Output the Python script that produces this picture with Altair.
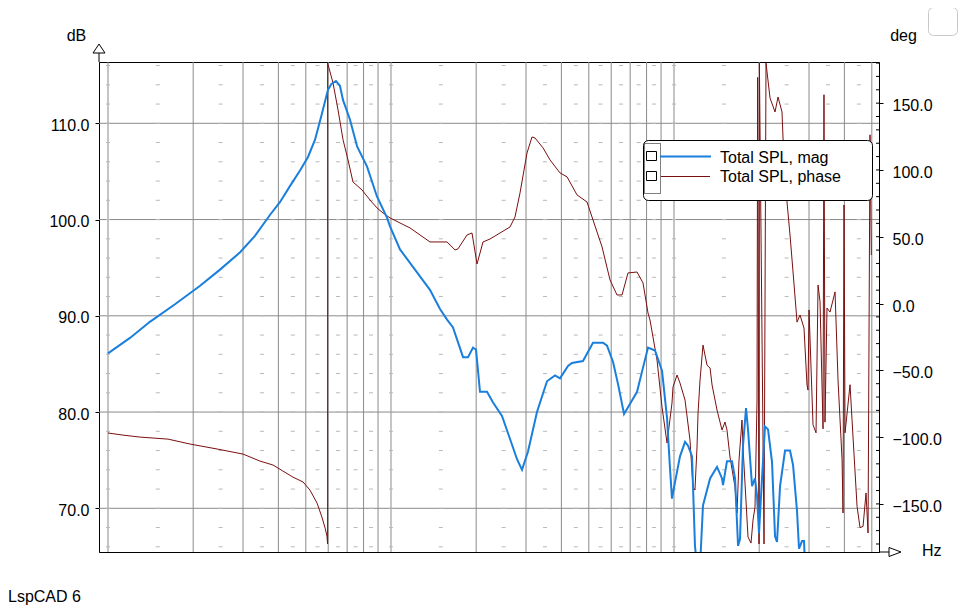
import altair as alt
import pandas as pd

# ---------------- data ----------------
mag_f = [10.0, 11.96, 14.1, 17.25, 21.1, 24.88, 29.3, 33.06, 37.4, 40.5, 44.0, 47.7, 50.9, 53.9, 57.0,
         59.9, 61.6, 63.9, 66.0, 67.7, 71.6, 75.9, 82.3,
         89.2, 96.8, 99.2, 107.6, 116.7, 126.6, 137.3, 149.0, 157.8, 165.6, 179.7, 187.1,
         194.9, 199.7, 206.3, 218.4, 229.4, 246.7, 263.4, 278.8, 290.4, 304.9, 328.0, 355.8,
         379.7, 395.5, 422.2, 436.1, 476.9, 517.3, 561.4, 579.9, 609.0, 634.2, 666.0, 687.9,
         740.3, 770.9, 809.4, 856.9, 907.1, 944.8, 968.1, 983.8, 1008, 1050, 1094, 1121, 1158,
         1186, 1206, 1236, 1266, 1341, 1419, 1478, 1490, 1539, 1603, 1643, 1684, 1711, 1753,
         1797, 1826, 1887, 1933, 1965, 1997, 2046, 2097, 2149, 2220, 2275, 2312, 2370, 2468,
         2570, 2634, 2721, 2765, 2834, 2880, 2904]
mag_db = [86.1, 87.7, 89.4, 91.2, 93.1, 94.8, 96.6, 98.3, 100.5, 101.8, 103.5, 105.1, 106.5, 108.3, 111.0,
          113.5, 114.1, 114.4, 113.9, 112.4, 110.4, 107.6, 105.5,
          102.4, 100.2, 99.3, 96.9, 95.5, 94.1, 92.7, 90.7, 89.6, 88.8, 85.7, 85.7,
          86.7, 86.5, 82.1, 82.1, 81.0, 79.6, 77.2, 75.1, 74.0, 75.9, 80.0, 83.2,
          83.8, 83.5, 84.8, 85.1, 85.3, 87.2, 87.2, 86.9, 85.2, 82.9, 79.8, 80.5,
          82.1, 84.2, 86.7, 86.4, 84.3, 79.4, 74.1, 71.0, 72.7, 75.4, 76.9, 76.5, 75.4,
          66.1, 64.0, 64.0, 70.3, 73.1, 74.3, 73.1, 72.4, 74.9, 74.9, 73.1, 66.1, 66.8, 76.5,
          80.4, 78.2, 72.3, 73.1, 71.3, 67.4, 73.1, 78.5, 78.2, 74.8, 67.1, 66.5, 72.3, 76.0,
          76.0, 74.5, 69.7, 65.8, 66.6, 66.6, 64.0]

ph_f = [10.0, 11.3, 13.0, 16.3, 19.5, 24.3, 30.0, 34.4, 38.3, 41.5, 45.0, 48.9, 51.7, 54.8,
        57.0, 58.5, 59.4, 59.7, 59.72, 62.4, 65.0, 67.7, 70.5, 73.4, 79.0, 84.3, 89.2, 93.7,
        99.2, 107.6, 116.7, 137.3, 157.8, 168.4, 172.5, 185.6, 193.3, 201.4, 211.4, 223.8,
        242.8, 263.4, 274.3, 285.7, 302.4, 315.0, 322.8, 344.5, 364.7, 395.5, 418.8, 454.3,
        492.7, 517.3, 556.8, 594.1, 628.9, 655.1, 687.9, 740.3, 777.2, 809.4, 822.7, 871.0,
        907.1, 944.8, 983.8, 991.9, 1025, 1050, 1094, 1139, 1167, 1186, 1206, 1216, 1236,
        1266, 1308, 1341, 1363, 1419, 1478, 1514, 1539, 1577, 1643, 1670, 1697, 1739, 1753,
        1826, 1871, 1902, 1933, 1965, 1975, 1997, 2003, 2080, 2114, 2184, 2275, 2331, 2408,
        2428, 2508, 2570, 2634, 2721, 2788, 2880, 2951, 2975, 3000, 3099, 3176, 3228, 3281,
        3362, 3388, 3416, 3472, 3559, 3707, 3798, 3925, 3956, 3988, 4021, 4188, 4256, 4434,
        4543, 4656, 4770, 4849, 4927, 4980]
ph_deg = [-96.9, -98.5, -100.0, -101.5, -105.2, -108.9, -112.7, -117.9, -120.9, -125.4, -129.9, -133.6, -139.6, -149.4,
          -159.8, -168.1, -174.1, -180.0, 180.0, 165.1, 144.9, 122.5, 107.5, 91.0, 85.0, 77.5, 71.6, 67.8,
          64.1, 60.3, 56.6, 46.1, 46.1, 40.1, 40.9, 51.3, 52.8, 29.6, 46.1, 48.3,
          52.8, 57.3, 64.8, 82.8, 112.7, 124.7, 123.9, 116.5, 107.5, 97.8, 94.8, 81.3,
          76.0, 62.6, 42.4, 17.7, 6.4, 6.4, 22.9, 23.6, 15.4, -7.1, -12.4, -42.3,
          -77.5, -104.4, -74.5, -62.5, -53.5, -59.5, -72.3, -102.2, -137.4, -139.6, -107.4, -82.0, -57.3,
          -31.1, -46.1, -48.3, -61.0, -79.7, -94.7, -88.7, -94.7, -114.9, -137.4, -156.8, -117.2, -87.2, -107.4,
          -174.8, -179.3, -162.1, -152.3, -72.3, 169.3, -180.0, 180.0, -180.0, 180.0, 153.9, 143.4, 154.6, 143.4,
          123.9, 76.0, 51.3, 23.6, -13.9, -8.6, -18.4, -61.0, -64.8, -4.8, -90.8, -96.8, 13.9, 1.3,
          -93.8, 156.3, -88.8, -3.4, -6.4, 8.7, -57.3, -116.8, -156.8, 73.8, -96.8, -60.8, -86.8, -151.8,
          -167.8, -166.8, -141.8, -171.8, 126.3, 36.3]

grid_f = [10, 20, 30, 40, 50, 60, 70, 80, 90, 100, 200, 300, 400, 500, 600, 700, 800, 900,
          1000, 2000, 3000, 4000, 5000]
grid_db = [70, 80, 90, 100, 110]
dash_f = [10, 15, 25, 35, 45, 55, 65, 75, 85, 100, 150, 250, 350, 450, 550, 650, 750, 850,
          1000, 1500, 2500, 3500, 4500]
dash_db = list(range(66, 117, 2))
x_labels = [10, 50, 100, 500, 1000, 5000]
deg_labels = [-150, -100, -50, 0, 50, 100, 150]
deg_minor = list(range(-180, 181, 10))
legend_names = ["Total SPL, mag", "Total SPL, phase"]

FONT = "Liberation Sans"
BLUE = "#1a7fdc"
RED = "#7a0f0f"
GRID = "#8a8a8a"

xs = alt.Scale(type="log", domain=[9.295, 5301], nice=False)
yL = alt.Scale(domain=[65.46, 116.37], nice=False, zero=False)
yR = alt.Scale(domain=[-186.0, 180.8], nice=False, zero=False)

mag = pd.DataFrame({"f": mag_f, "db": mag_db, "i": range(len(mag_f))})
ph = pd.DataFrame({"f": ph_f, "deg": ph_deg, "i": range(len(ph_f))})
gf = pd.DataFrame({"f": grid_f})
gd = pd.DataFrame({"db": grid_db})
dashes = pd.DataFrame([{"f": a, "db": b} for a in dash_f for b in dash_db])
dm = pd.DataFrame({"deg": deg_minor})
one = pd.DataFrame({"a": [0]})

x_axis = alt.Axis(values=x_labels, title=None, grid=False, ticks=False, tickSize=0,
                  labelExpr="datum.value == 10 ? '10 Hz' : format(datum.value, 'd')",
                  labelFont=FONT, labelFontSize=16, labelColor="black", labelPadding=3,
                  labelOverlap=False, labelFlush=False, domainColor="black")

vgrid = alt.Chart(gf).mark_rule(color=GRID, strokeWidth=1).encode(
    x=alt.X("f:Q", scale=xs, axis=x_axis))

hgrid = alt.Chart(gd).mark_rule(color=GRID, strokeWidth=1).encode(
    y=alt.Y("db:Q", scale=yL, axis=alt.Axis(
        orient="left", values=grid_db, format=".1f", title=None, grid=False,
        tickSize=4, tickColor="black", domainColor="black", labelPadding=6, labelOffset=2,
        labelFont=FONT, labelFontSize=16, labelColor="black")))

dash_layer = alt.Chart(dashes).mark_point(shape="stroke", size=16, strokeWidth=1,
                                          color="#b8b8b8", opacity=1).encode(
    x=alt.X("f:Q", scale=xs, axis=None),
    y=alt.Y("db:Q", scale=yL, axis=None))

phase_line = alt.Chart(ph).mark_line(color=RED, strokeWidth=1, clip=True).encode(
    x=alt.X("f:Q", scale=xs, axis=None),
    y=alt.Y("deg:Q", scale=yR, axis=alt.Axis(
        orient="right", values=deg_labels, format=".1f", title=None, grid=False,
        tickSize=4, tickColor="black", domainColor="black", labelPadding=9, labelOffset=2.5,
        labelFont=FONT, labelFontSize=16, labelColor="black")),
    order="i:Q")

minor_ticks = alt.Chart(dm).mark_rule(color="black", strokeWidth=1).encode(
    y=alt.Y("deg:Q", scale=yR, axis=None),
    x=alt.value(777), x2=alt.value(780))

mag_line = alt.Chart(mag).mark_line(color=BLUE, strokeWidth=2, clip=True).encode(
    x=alt.X("f:Q", scale=xs, axis=None),
    y=alt.Y("db:Q", scale=yL, axis=None),
    order="i:Q")

# axis arrows and extensions
yext = alt.Chart(one).mark_rule(color="black").encode(
    x=alt.value(0), y=alt.value(-9), y2=alt.value(0))
xext = alt.Chart(one).mark_rule(color="black").encode(
    x=alt.value(780), x2=alt.value(790), y=alt.value(490))
up_arrow = alt.Chart(one).mark_point(shape="M0,-0.75L1,0.75L-1,0.75Z", size=144, filled=True,
                                     fill="white", stroke="black", strokeWidth=1, opacity=1).encode(
    x=alt.value(0), y=alt.value(-13.5))
right_arrow = alt.Chart(one).mark_point(shape="M1,0L-1,-0.75L-1,0.75Z", size=144, filled=True,
                                        fill="white", stroke="black", strokeWidth=1, opacity=1).encode(
    x=alt.value(796), y=alt.value(490))

def label(txt, x, y, align="left"):
    return alt.Chart(pd.DataFrame({"t": [txt]})).mark_text(
        font=FONT, fontSize=16, color="black", align=align, baseline="alphabetic").encode(
        x=alt.value(x), y=alt.value(y), text="t:N")

t_db = label("dB", -22.5, -21, "center")
t_deg = label("deg", 804.5, -21, "center")
t_hz = label("Hz", 823, 494)
t_lsp = label("LspCAD 6", -91, 540)

corner_box = alt.Chart(one).mark_rect(fill="white", stroke="#c8c8c8", strokeWidth=1,
                                      cornerRadius=5).encode(
    x=alt.value(829.5), x2=alt.value(858.5), y=alt.value(-54.5), y2=alt.value(-26.5))

# legend
leg_box = alt.Chart(one).mark_rect(fill="white", stroke="black", strokeWidth=1,
                                   cornerRadius=5).encode(
    x=alt.value(544.5), x2=alt.value(773.5), y=alt.value(78.5), y2=alt.value(138.5))
leg_dots = alt.Chart(one).mark_rect(fill="white", fillOpacity=0, stroke="black", strokeWidth=1,
                                    strokeDash=[1, 1]).encode(
    x=alt.value(545.5), x2=alt.value(561.5), y=alt.value(81.5), y2=alt.value(131.5))
checks1 = alt.Chart(one).mark_rect(fill="white", stroke="black", strokeWidth=1).encode(
    x=alt.value(547.5), x2=alt.value(557.5), y=alt.value(89.5), y2=alt.value(98.5))
checks2 = alt.Chart(one).mark_rect(fill="white", stroke="black", strokeWidth=1).encode(
    x=alt.value(547.5), x2=alt.value(557.5), y=alt.value(109.5), y2=alt.value(118.5))
leg_blue = alt.Chart(one).mark_rule(color=BLUE, strokeWidth=2).encode(
    x=alt.value(561), x2=alt.value(612), y=alt.value(94.5))
leg_red = alt.Chart(one).mark_rule(color=RED, strokeWidth=1).encode(
    x=alt.value(562), x2=alt.value(611), y=alt.value(114.5))
leg_t1 = label(legend_names[0], 621, 101)
leg_t2 = label(legend_names[1], 621, 120)

chart = alt.layer(
    vgrid, hgrid, dash_layer, phase_line, minor_ticks, mag_line,
    yext, xext, up_arrow, right_arrow, t_db, t_deg, t_hz, t_lsp, corner_box,
    leg_box, leg_dots, checks1, checks2, leg_blue, leg_red, leg_t1, leg_t2
).resolve_scale(y="independent").properties(
    width=780, height=490,
    padding={"left": 91, "top": 54, "right": 91, "bottom": 53},
    autosize=alt.AutoSizeParams(type="none"),
    background="white"
).configure_view(stroke="black", strokeWidth=1)

chart.save("out.html", embed_options={"renderer": "svg", "actions": False})
